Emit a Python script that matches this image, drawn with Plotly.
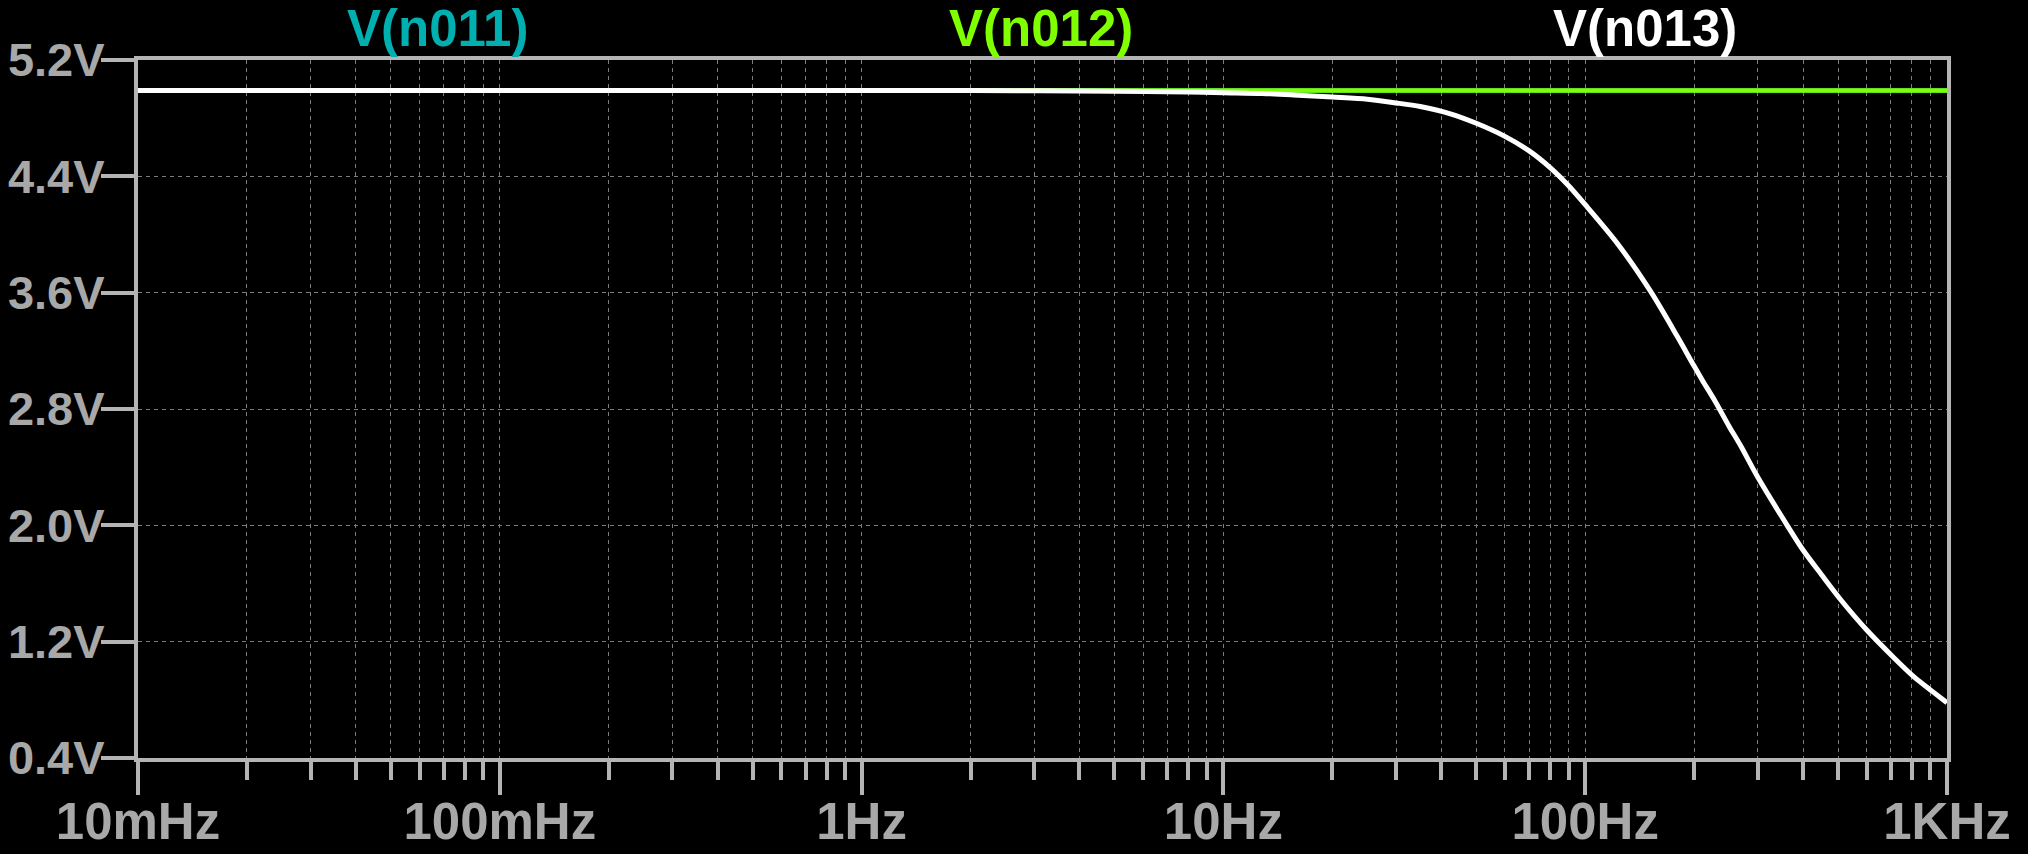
import plotly.graph_objects as go

# ---- data ----
freq_flat = [0.01, 1000]
v_n011 = [4.99, 4.99]
v_n012 = [4.99, 4.99]

freq_n013 = [0.01, 0.1, 1, 2, 5, 8, 10, 12.8, 15.6, 20, 25, 30, 35, 42.4, 50, 60, 70, 80, 90, 100,
             122.6, 151.5, 179.6, 200, 210.5, 229, 250, 268.5, 300, 361.6, 400, 450, 507.8, 600,
             713, 809, 909, 1000]
v_n013 = [4.99, 4.99, 4.99, 4.99, 4.985, 4.98, 4.975, 4.97, 4.96, 4.945, 4.93, 4.905, 4.88, 4.83,
          4.765, 4.675, 4.575, 4.46, 4.335, 4.205, 3.94, 3.61, 3.30, 3.095, 3.0, 2.85, 2.68, 2.55,
          2.33, 2.0, 1.83, 1.66, 1.49, 1.28, 1.09, 0.96, 0.86, 0.78]

x_major = [0.01, 0.1, 1, 10, 100, 1000]
x_major_text = ["10mHz", "100mHz", "1Hz", "10Hz", "100Hz", "1KHz"]
x_minor = [m * d for d in [0.01, 0.1, 1, 10, 100] for m in range(2, 10)]
y_ticks = [0.4, 1.2, 2.0, 2.8, 3.6, 4.4, 5.2]
y_text = ["0.4V", "1.2V", "2.0V", "2.8V", "3.6V", "4.4V", "5.2V"]

trace_names = ["V(n011)", "V(n012)", "V(n013)"]
trace_colors = ["#00b0b0", "#80ff00", "#ffffff"]
label_pos = [0.1653, 0.4992, 0.8331]

AXIS = "#b4b4b4"
TEXT = "#a8a8a8"
GRID = "#7a7a7a"
FONT = "Liberation Sans, Arial, sans-serif"

fig = go.Figure()
fig.add_trace(go.Scatter(x=freq_flat, y=v_n011, mode="lines", name=trace_names[0],
                         line=dict(color=trace_colors[0], width=4.5)))
fig.add_trace(go.Scatter(x=freq_flat, y=v_n012, mode="lines", name=trace_names[1],
                         line=dict(color=trace_colors[1], width=4.5)))
fig.add_trace(go.Scatter(x=freq_n013, y=v_n013, mode="lines", name=trace_names[2],
                         line=dict(color=trace_colors[2], width=5, shape="spline", smoothing=0.8)))

for name, col, xp in zip(trace_names, trace_colors, label_pos):
    fig.add_annotation(text=name, x=xp, y=1.0, xref="paper", yref="paper",
                       xanchor="center", yanchor="bottom", yshift=1, showarrow=False,
                       font=dict(family=FONT, size=51, color=col, weight="bold"))

fig.update_layout(
    width=2028, height=854,
    paper_bgcolor="black", plot_bgcolor="black",
    margin=dict(l=138, r=81, t=60, b=96, autoexpand=False),
    showlegend=False,
    xaxis=dict(
        type="log", range=[-2, 3], automargin=False,
        tickmode="array", tickvals=x_major, ticktext=x_major_text,
        ticks="outside", ticklen=33, tickwidth=4, tickcolor=AXIS,
        showline=True, linecolor=AXIS, linewidth=4, mirror=True,
        showgrid=True, gridcolor=GRID, gridwidth=1, griddash="4px,4px",
        zeroline=False, ticklabelstandoff=-17,
        tickfont=dict(family=FONT, size=51, color=TEXT, weight="bold"),
        minor=dict(tickvals=x_minor, ticks="outside", ticklen=18, tickwidth=4, tickcolor=AXIS,
                   showgrid=True, gridcolor=GRID, gridwidth=1, griddash="4px,4px"),
    ),
    yaxis=dict(
        range=[0.4, 5.2], automargin=False,
        tickmode="array", tickvals=y_ticks, ticktext=y_text,
        ticks="outside", ticklen=33, tickwidth=4, tickcolor=AXIS,
        showline=True, linecolor=AXIS, linewidth=4, mirror=True,
        showgrid=True, gridcolor=GRID, gridwidth=1, griddash="4px,4px",
        zeroline=False, ticklabelstandoff=-13,
        tickfont=dict(family=FONT, size=47, color=TEXT, weight="bold"),
    ),
)

fig.write_html(
    "out.html",
    config={"displayModeBar": False},
    post_script="document.body.style.margin='0';document.body.style.overflow='hidden';",
)
